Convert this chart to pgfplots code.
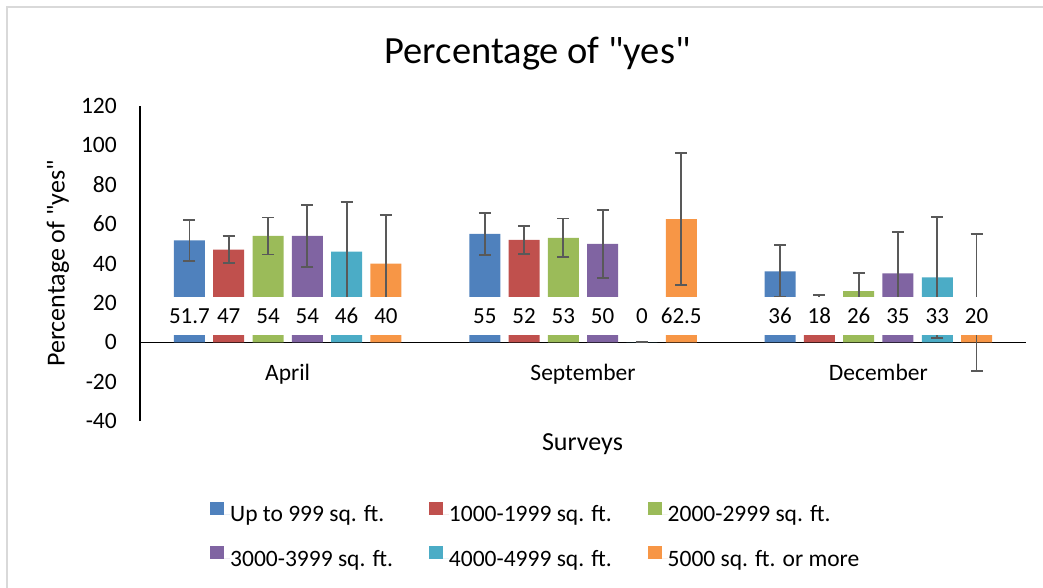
\documentclass[border=0pt]{standalone}
\usepackage{pgfplots}
\pgfplotsset{compat=1.18}
\usepackage{pgfplotstable}
\usepackage{fontspec}
\setmainfont{Carlito}
\newfontfamily\qfont{Carlito}
\newcommand{\q}{{\qfont"}}
\definecolor{c1}{HTML}{4F81BD}
\definecolor{c2}{HTML}{C0504D}
\definecolor{c3}{HTML}{9BBB59}
\definecolor{c4}{HTML}{8064A2}
\definecolor{c5}{HTML}{4BACC6}
\definecolor{c6}{HTML}{F79646}
\definecolor{errgray}{HTML}{595959}
\definecolor{framegray}{HTML}{D9D9D9}

% x: survey index; a..f: percentage per size class; ea..ef: error
\pgfplotstableread{
x a ea b eb c ec d ed e ee f ef
0 51.7 10.5 47 6.8 54 9.4 54 15.7 46 25.2 40 24.8
1 55 10.8 52 7.2 53 9.9 50 17.3 0 0 62.5 33.6
2 36 13.2 18 6 26 9.2 35 21 33 30.8 20 34.8
}\data

\pgfplotsset{
  myerr/.style={error bars/.cd, y dir=both, y explicit,
    error bar style={line width=1.8pt, color=errgray},
    error mark options={rotate=90, line width=1.8pt, color=errgray, mark size=6pt}},
  lab/.style={forget plot, draw=none, fill=none, nodes near coords, point meta=explicit},
}

\begin{document}
\begin{tikzpicture}
\path[use as bounding box] (0pt,0pt) rectangle (1043pt,-588pt);
\draw[color=framegray, line width=2pt] (7pt,-590pt) -- (7pt,-7pt) -- (1045pt,-7pt);
\begin{axis}[
  at={(140pt,-421pt)}, anchor=south west,
  scale only axis, width=886pt, height=315pt,
  xmin=-0.5, xmax=2.5, ymin=-40, ymax=120,
  axis x line*=middle, axis y line*=left,
  axis line style={line width=1.3pt, black},
  ybar, bar width=31pt,
  xtick={0,1,2}, xticklabels={April,September,December},
  ytick={-40,-20,0,20,40,60,80,100,120},
  major tick length=0pt,
  /pgf/number format/assume math mode=true,
  xticklabel style={font=\fontsize{23.5}{28}\selectfont, anchor=base, yshift=-38pt},
  yticklabel style={font=\fontsize{23.5}{28}\selectfont, anchor=east, inner sep=0pt, xshift=-23pt},
  title={Percentage of \q yes\q},
  every axis title/.style={at={(axis description cs:0.4487,1.1365)}, anchor=base, font=\fontsize{38.5}{46}\selectfont},
  xlabel={Surveys},
  every axis x label/.style={at={(axis description cs:0.4994,-0.0921)}, anchor=base, font=\fontsize{26}{31}\selectfont},
  ylabel={Percentage of \q yes\q},
  every axis y label/.style={at={(axis description cs:-0.09255,0.5)}, rotate=90, anchor=center, font=\fontsize{26}{31}\selectfont},
  nodes near coords style={fill=white, minimum width=37pt, minimum height=38.3pt, inner sep=0pt, anchor=south, text=black, font=\fontsize{23}{27}\selectfont},
  legend columns=3,
  legend cell align=left,
  legend image code/.code={\draw[#1,/tikz/.cd,draw=none] (0pt,-0.5pt) rectangle (14pt,12.5pt); \path (0pt,0pt) -- (20pt,0pt);},
  legend style={at={(axis description cs:0.0790,-0.2571)}, anchor=north west, draw=none, fill=none,
    inner sep=0pt, nodes={inner xsep=0pt, inner ysep=0pt},
    font=\fontsize{23.5}{28}\selectfont, row sep=23pt,
    /tikz/every even column/.append style={column sep=36pt}},
]
\addplot[fill=c1, draw=none, bar shift=-98.25pt, myerr] table[x=x, y=a, y error=ea]{\data};
\addplot[fill=c2, draw=none, bar shift=-58.95pt, myerr] table[x=x, y=b, y error=eb]{\data};
\addplot[fill=c3, draw=none, bar shift=-19.65pt, myerr] table[x=x, y=c, y error=ec]{\data};
\addplot[fill=c4, draw=none, bar shift=19.65pt, myerr] table[x=x, y=d, y error=ed]{\data};
\addplot[fill=c5, draw=none, bar shift=58.95pt, myerr] table[x=x, y=e, y error=ee]{\data};
\addplot[fill=c6, draw=none, bar shift=98.25pt, myerr] table[x=x, y=f, y error=ef]{\data};
\legend{Up to 999 sq. ft., 1000-1999 sq. ft., 2000-2999 sq. ft., 3000-3999 sq. ft., 4000-4999 sq. ft., 5000 sq. ft. or more}
\addplot[lab, bar shift=-98.25pt] table[x=x, y expr=3.5, meta=a]{\data};
\addplot[lab, bar shift=-58.95pt] table[x=x, y expr=3.5, meta=b]{\data};
\addplot[lab, bar shift=-19.65pt] table[x=x, y expr=3.5, meta=c]{\data};
\addplot[lab, bar shift=19.65pt] table[x=x, y expr=3.5, meta=d]{\data};
\addplot[lab, bar shift=58.95pt] table[x=x, y expr=3.5, meta=e]{\data};
\addplot[lab, bar shift=98.25pt] table[x=x, y expr=3.5, meta=f]{\data};
\end{axis}
\end{tikzpicture}
\end{document}
